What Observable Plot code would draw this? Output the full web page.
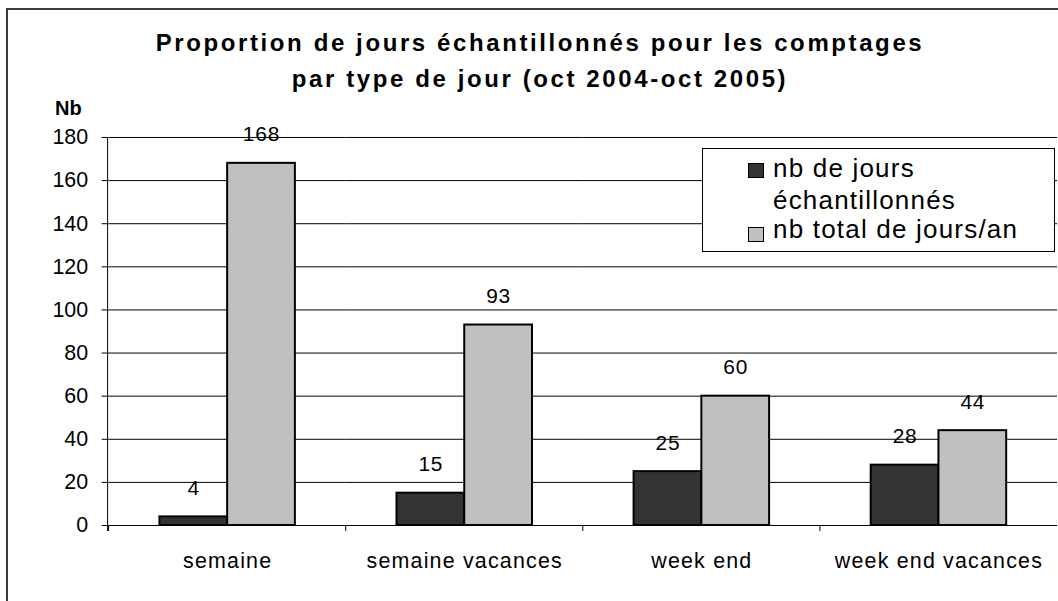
<!DOCTYPE html>
<html>
<head>
<meta charset="utf-8">
<script src="https://cdn.jsdelivr.net/npm/d3@7"></script>
<script src="https://cdn.jsdelivr.net/npm/@observablehq/plot@0.6"></script>
<style>
  html, body { margin: 0; padding: 0; overflow: hidden; background: #fff; }
  body { width: 1058px; height: 601px; position: relative; font-family: "Liberation Sans", Arial, sans-serif; color: #000; }
  #frame { position: absolute; left: 6px; top: 8px; width: 1120px; height: 700px; border: 2px solid #3c3c3c; box-sizing: border-box; }
  #chart { position: absolute; left: 0; top: 0; }
  #title { position: absolute; left: 40px; top: 24.7px; width: 1000px; text-align: center; font-weight: bold; font-size: 24px; line-height: 36px; letter-spacing: 2.6px; white-space: nowrap; }
  #ylabel { position: absolute; left: 55px; top: 98px; font-weight: bold; font-size: 20px; line-height: 20px; }
  #legend { position: absolute; left: 702px; top: 148px; width: 353px; height: 104px; border: 1px solid #000; background: #fff; box-sizing: border-box; }
  .lg-item { position: absolute; font-size: 26px; line-height: 26px; letter-spacing: 1.2px; white-space: nowrap; }
  .lg-swatch { position: absolute; width: 16px; height: 15px; border: 1.5px solid #000; box-sizing: border-box; }
</style>
</head>
<body>
<div id="frame"></div>
<div id="chart"></div>
<div id="title"></div>
<div id="ylabel"></div>
<div id="legend"></div>
<script>
// ---- data ----
const titleLines = ["Proportion de jours échantillonnés pour les comptages", "par type de jour (oct 2004-oct 2005)"];
const yAxisLabel = "Nb";
const categories = ["semaine", "semaine vacances", "week end", "week end vacances"];
const seriesNames = ["nb de jours échantillonnés", "nb total de jours/an"];
const legendLines = [["nb de jours", "échantillonnés"], ["nb total de jours/an"]];
const sampledDays = [4, 15, 25, 28];
const totalDays = [168, 93, 60, 44];
const yTicks = [0, 20, 40, 60, 80, 100, 120, 140, 160, 180];
const seriesColors = ["#333333", "#c0c0c0"];

const rows = categories.flatMap((c, i) => [
  {category: c, series: seriesNames[0], value: sampledDays[i]},
  {category: c, series: seriesNames[1], value: totalDays[i]}
]);

const chart = Plot.plot({
  width: 1062,
  height: 601,
  marginLeft: 108,
  marginRight: 0,
  marginTop: 137.5,
  marginBottom: 74,
  style: {fontFamily: "'Liberation Sans', Arial, sans-serif", fontSize: "21.5px", color: "#000", background: "transparent", overflow: "visible"},
  fx: {domain: categories, padding: 0, label: null, tickSize: 0, tickPadding: 27, axis: "bottom"},
  x: {domain: seriesNames, axis: null, paddingInner: 0, paddingOuter: 0.745},
  y: {domain: [0, 180], ticks: yTicks, tickSize: 7, tickPadding: 14, label: null},
  color: {domain: seriesNames, range: seriesColors},
  marks: [
    Plot.ruleY(yTicks, {stroke: "#000", strokeWidth: 1}),
    Plot.barY(rows, {fx: "category", x: "series", y: "value", fill: "series", stroke: "#000", strokeWidth: 2}),
    Plot.text(rows, {fx: "category", x: "series", y: "value", text: d => String(d.value), lineAnchor: "bottom", dy: -22, fontSize: 21, fill: "#000"})
  ]
});
document.getElementById("chart").appendChild(chart);

// category boundary ticks and y axis line, from Plot's own scales
const fx = chart.scale("fx");
const ys = chart.scale("y");
const svg = d3.select(chart);
const y0 = ys.apply(0), yTop = ys.apply(180);
const g = svg.append("g").attr("stroke", "#000").attr("stroke-width", 1);
g.append("line").attr("x1", fx.range[0]).attr("x2", fx.range[0]).attr("y1", yTop).attr("y2", y0 + 6);
categories.forEach(c => {
  const x = fx.apply(c);
  g.append("line").attr("x1", x).attr("x2", x).attr("y1", y0).attr("y2", y0 + 6);
});
svg.selectAll('g[aria-label="fx-axis tick label"] text').style("letter-spacing", "1.2px");
svg.selectAll('g[aria-label="text"] text').style("letter-spacing", "0.8px");

// title, axis label, legend
const t = document.getElementById("title");
titleLines.forEach(l => { const d = document.createElement("div"); d.textContent = l; t.appendChild(d); });
document.getElementById("ylabel").textContent = yAxisLabel;
const lg = document.getElementById("legend");
const swatchTops = [14, 78];
const lineTops = [[5.7, 37.5], [67.3]];
legendLines.forEach((lines, i) => {
  const sw = document.createElement("div");
  sw.className = "lg-swatch";
  sw.style.left = "45px";
  sw.style.top = swatchTops[i] + "px";
  sw.style.background = seriesColors[i];
  lg.appendChild(sw);
  lines.forEach((l, j) => {
    const s = document.createElement("div");
    s.className = "lg-item";
    s.style.left = "70px";
    s.style.top = lineTops[i][j] + "px";
    s.textContent = l;
    lg.appendChild(s);
  });
});
</script>
</body>
</html>
